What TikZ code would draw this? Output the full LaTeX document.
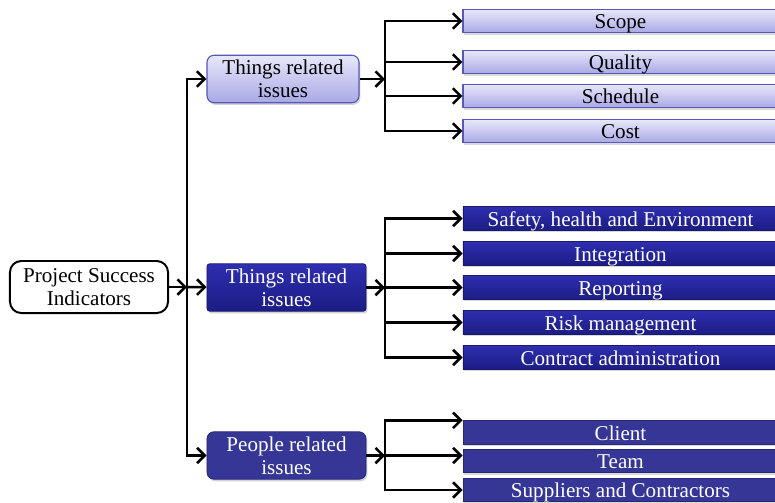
\documentclass[tikz,border=0pt]{standalone}
\usepackage{fontspec}
\setmainfont{Liberation Serif}
\usetikzlibrary{arrows.meta,shadows,positioning}
\usepackage{xcolor}

\definecolor{lavtop}{HTML}{E8E8FA}
\definecolor{lavbot}{HTML}{A8A8E6}
\definecolor{lavdraw}{HTML}{5858B8}
\definecolor{navytop}{HTML}{2E2EB0}
\definecolor{navybot}{HTML}{1C1C84}
\definecolor{navydraw}{HTML}{18186E}
\definecolor{slate}{HTML}{363696}
\definecolor{slatedraw}{HTML}{26267A}

\begin{document}
\begin{tikzpicture}[
    x=0.025cm, y=-0.025cm,
    every node/.style={font=\fontsize{15}{16.5}\selectfont},
    rootbox/.style={
        rectangle,
        draw,
        line width=1.4pt,
        rounded corners=8pt,
        fill=white,
        minimum width=3.95cm,
        minimum height=1.3cm,
        align=center
    },
    catbox/.style={
        rectangle,
        rounded corners=5pt,
        minimum height=1.15cm,
        align=center,
        drop shadow={opacity=0.35, shadow xshift=1pt, shadow yshift=-1.5pt}
    },
    itembox/.style={
        rectangle,
        inner sep=0pt,
        text height=13pt,
        text depth=2pt,
        minimum width=7.875cm,
        minimum height=0.59cm,
        drop shadow={opacity=0.3, shadow xshift=0.5pt, shadow yshift=-1.5pt}
    },
    lightfill/.style={top color=lavtop, bottom color=lavbot, draw=lavdraw, line width=0.8pt},
    darkfill/.style={top color=navytop, bottom color=navybot, draw=navydraw, line width=0.6pt, text=white},
    slatefill/.style={fill=slate, draw=slatedraw, line width=0.6pt, text=white},
    link/.style={-{Straight Barb[length=5.5pt,width=11pt]}, line width=1.8pt}
]
\clip (0,0) rectangle (775,502);

% Root
\node[rootbox] (root) at (89,287) {Project Success\\Indicators};

% Three categories
\node[catbox, lightfill, minimum width=3.8cm] (things) at (283,79) {Things related\\issues};
\node[catbox, darkfill, rounded corners=2pt, minimum width=3.975cm] (tech) at (286.5,287.5) {Things related\\issues};
\node[catbox, slatefill, minimum width=3.975cm] (people) at (286.5,455.5) {People related\\issues};

% Junctions
\coordinate (j0) at (187,287);
\coordinate (k1) at (385,79);
\coordinate (k2) at (385,287.5);
\coordinate (k3) at (385,455.5);

% Items of the first group
\node[itembox, lightfill] (scope) at (620.5,21) {Scope};
\node[itembox, lightfill] (quality) at (620.5,62) {Quality};
\node[itembox, lightfill] (schedule) at (620.5,96) {Schedule};
\node[itembox, lightfill] (cost) at (620.5,131) {Cost};

% Items of the second group
\node[itembox, darkfill] (safety) at (620.5,218.5) {Safety, health and Environment};
\node[itembox, darkfill] (integ) at (620.5,253.5) {Integration};
\node[itembox, darkfill] (report) at (620.5,287.5) {Reporting};
\node[itembox, darkfill] (risk) at (620.5,322.5) {Risk management};
\node[itembox, darkfill] (contract) at (620.5,357.5) {Contract administration};

% Items of the third group
\node[itembox, slatefill] (client) at (620.5,432.5) {Client};
\node[itembox, slatefill] (team) at (620.5,461) {Team};
\node[itembox, slatefill] (suppliers) at (620.5,490) {Suppliers and Contractors};

% Root to categories
\draw[link] (root) -- (j0);
\draw[link] (j0) |- (things);
\draw[link] (j0) -- (tech);
\draw[link] (j0) |- (people);

% Categories to items
\draw[link] (things) -- (k1);
\draw[link] (k1) |- (scope);
\draw[link] (k1) |- (quality);
\draw[link] (k1) |- (schedule);
\draw[link] (k1) |- (cost);

\draw[link] (tech) -- (k2);
\draw[link] (k2) |- (safety);
\draw[link] (k2) |- (integ);
\draw[link] (k2) -- (report);
\draw[link] (k2) |- (risk);
\draw[link] (k2) |- (contract);

\draw[link] (people) -- (k3);
\draw[link] (k3) |- (client.north west);
\draw[link] (k3) -- (k3 -| team.west);
\draw[link] (k3) |- (suppliers);

\end{tikzpicture}
\end{document}
